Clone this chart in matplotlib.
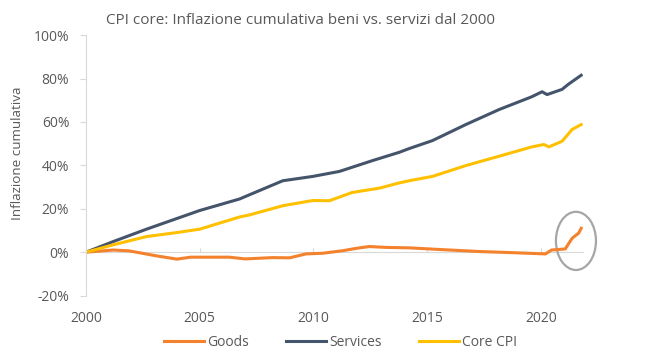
from matplotlib.patches import Ellipse
from matplotlib.ticker import PercentFormatter
import matplotlib.pyplot as plt

FONT = "Open Sans"
TEXT_COLOR = "#595959"
AXIS_COLOR = "#D9D9D9"
FONTSIZE = 10

plt.rcParams["font.family"] = [FONT, "DejaVu Sans"]
plt.rcParams["axes.unicode_minus"] = False

# readings, decimal years / cumulative %
services_years = [2000.0, 2001.2, 2002.66, 2003.83, 2005.0, 2006.75, 2007.2, 2008.65,
                  2009.97, 2011.14, 2012.6, 2013.77, 2014.2, 2015.23, 2016.7, 2018.16,
                  2019.6, 2020.05, 2020.27, 2020.93, 2021.2, 2021.77]
services = [0.0, 4.9, 10.6, 14.9, 19.2, 24.5, 26.5, 32.9,
            34.9, 37.2, 42.2, 46.0, 47.7, 51.4, 58.8, 65.7,
            71.6, 73.9, 72.6, 75.0, 77.3, 81.5]

core_years = [2000.0, 2001.2, 2002.66, 2003.83, 2005.0, 2006.75, 2007.2, 2008.65,
              2009.97, 2010.7, 2011.7, 2012.9, 2013.77, 2014.2, 2015.23, 2016.7,
              2018.16, 2019.6, 2020.13, 2020.35, 2020.93, 2021.37, 2021.77]
core = [0.0, 3.4, 7.2, 8.8, 10.6, 16.2, 17.2, 21.4,
        23.8, 23.7, 27.5, 29.5, 31.9, 32.9, 34.9, 39.9,
        44.2, 48.5, 49.6, 48.5, 51.1, 56.5, 58.8]

goods_years = [2000.0, 2001.2, 2001.9, 2003.1, 2004.0, 2004.6, 2006.3, 2007.0,
               2008.2, 2008.95, 2009.67, 2010.4, 2011.3, 2011.9, 2012.45, 2013.2,
               2014.2, 2015.8, 2017.3, 2018.7, 2020.2, 2020.47, 2021.07, 2021.37,
               2021.66, 2021.77]
goods = [0.0, 1.0, 0.6, -1.7, -3.2, -2.3, -2.3, -3.1,
         -2.5, -2.6, -0.8, -0.5, 0.7, 1.8, 2.6, 2.2,
         2.0, 1.1, 0.3, -0.2, -0.8, 1.0, 1.5, 6.4,
         8.8, 11.0]

x_ticks = [2000, 2005, 2010, 2015, 2020]
y_ticks = [-20, 0, 20, 40, 60, 80, 100]

fig = plt.figure(figsize=(6.48, 3.53), dpi=100)
ax = fig.add_axes([0.1327, 0.1626, 0.767, 0.738])

ax.plot(goods_years, goods, color="#F4812B", linewidth=2.2, label="Goods")
ax.plot(services_years, services, color="#44546A", linewidth=2.2, label="Services")
ax.plot(core_years, core, color="#FFC000", linewidth=2.2, label="Core CPI")

# highlight of the recent jump in goods prices
ax.add_patch(Ellipse((2021.54, 5.2), 1.76, 26.8, fill=False, clip_on=False,
                     edgecolor="#A6A6A6", linewidth=1.6))

ax.set_xlim(2000, 2021.85)
ax.set_ylim(-20, 100)
ax.set_yticks(y_ticks)
ax.set_xticks(x_ticks)
ax.yaxis.set_major_formatter(PercentFormatter(decimals=0))

for side in ["top", "right", "bottom"]:
    ax.spines[side].set_visible(False)
ax.spines["left"].set_color(AXIS_COLOR)

ax.tick_params(axis="y", length=4, color=AXIS_COLOR, pad=8,
               labelsize=FONTSIZE, labelcolor=TEXT_COLOR)
ax.tick_params(axis="x", length=0, pad=11,
               labelsize=FONTSIZE, labelcolor=TEXT_COLOR)

# zero line with the small year ticks
zero = ax.secondary_xaxis(1 / 6)
zero.set_xticks(x_ticks)
zero.tick_params(axis="x", direction="in", length=3, color=AXIS_COLOR,
                 labelbottom=False, labeltop=False)
zero.spines["bottom"].set_color(AXIS_COLOR)
zero.spines["top"].set_color(AXIS_COLOR)

ax.set_ylabel("Inflazione cumulativa", size=9.7, color=TEXT_COLOR)
ax.yaxis.set_label_coords(-0.125, 0.545)

fig.text(0.1636, 0.943, "CPI core: Inflazione cumulativa beni vs. servizi dal 2000",
         size=11, color=TEXT_COLOR, ha="left", va="center")

ax.legend(loc="center", bbox_to_anchor=(0.512, -0.181), ncol=3, frameon=False,
          fontsize=FONTSIZE, labelcolor=TEXT_COLOR, handlelength=2.88,
          handletextpad=0.22, columnspacing=2.7)

fig.savefig("out.png", dpi=100)
